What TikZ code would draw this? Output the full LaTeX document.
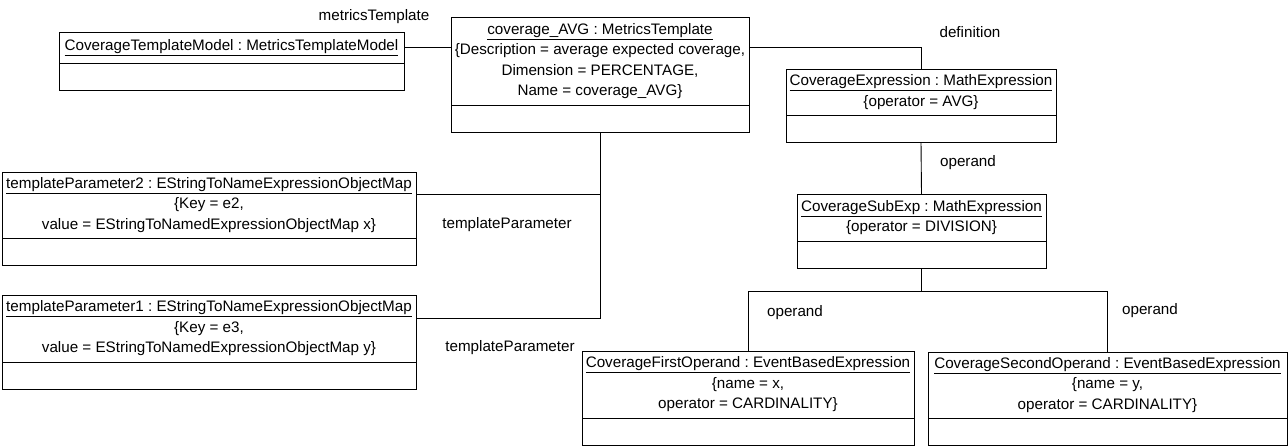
\documentclass[tikz,border=0pt]{standalone}
\usepackage{fontspec}
\setmainfont{Liberation Sans}
\frenchspacing
\usetikzlibrary{positioning}
\begin{document}
\begin{tikzpicture}[x=1pt,y=-1pt,line width=0.9pt,
	every node/.style={font=\fontsize{15.2}{20.5}\selectfont,outer sep=0pt},
	head/.style={draw,align=center,inner sep=1pt},
	body/.style={draw,minimum height=27pt},
	lbl/.style={inner sep=0pt}]
	\useasboundingbox (0,0) rectangle (1288,445);
	% cac doi tuong
	\node[head,minimum width=345pt,minimum height=31pt] (ctm) at (231.5,47.5) {\underline{CoverageTemplateModel : MetricsTemplateModel}};
	\node[body,minimum width=345pt,below=0pt of ctm] (ctmB) {};
	\node[head,minimum width=298pt,minimum height=88pt] (cavg) at (600,61) {\underline{coverage\_AVG : MetricsTemplate}\\\{Description = average expected coverage,\\Dimension = PERCENTAGE,\\Name = coverage\_AVG\}};
	\node[body,minimum width=298pt,below=0pt of cavg] (cavgB) {};
	\node[head,minimum width=270pt,minimum height=46pt] (cexp) at (921,92) {\underline{CoverageExpression : MathExpression}\\\{operator = AVG\}};
	\node[body,minimum width=270pt,below=0pt of cexp] (cexpB) {};
	\node[head,minimum width=249pt,minimum height=47pt] (csub) at (921.5,217.5) {\underline{CoverageSubExp : MathExpression}\\\{operator = DIVISION\}};
	\node[body,minimum width=249pt,below=0pt of csub] (csubB) {};
	\node[head,minimum width=414pt,minimum height=66pt] (tp2) at (209,205) {\underline{templateParameter2 : EStringToNameExpressionObjectMap}\\\{Key = e2,\\value = EStringToNamedExpressionObjectMap x\}};
	\node[body,minimum width=414pt,below=0pt of tp2] (tp2B) {};
	\node[head,minimum width=414pt,minimum height=67pt] (tp1) at (209,328.5) {\underline{templateParameter1 : EStringToNameExpressionObjectMap}\\\{Key = e3,\\value = EStringToNamedExpressionObjectMap y\}};
	\node[body,minimum width=414pt,below=0pt of tp1] (tp1B) {};
	\node[head,minimum width=332pt,minimum height=67pt] (cfirst) at (748,384.5) {\underline{CoverageFirstOperand : EventBasedExpression}\\\{name = x,\\operator = CARDINALITY\}};
	\node[body,minimum width=332pt,below=0pt of cfirst] (cfirstB) {};
	\node[head,minimum width=359pt,minimum height=66pt] (csecond) at (1107.5,385) {\underline{CoverageSecondOperand : EventBasedExpression}\\\{name = y,\\operator = CARDINALITY\}};
	\node[body,minimum width=359pt,below=0pt of csecond] (csecondB) {};
	% cac lien ket
	\draw (ctm.east) -- (ctm.east -| cavg.west);
	\draw (ctm.east -| cavg.east) -| (cexp.north);
	\draw (cexpB.south) -- (csub.north);
	\draw (cavgB.south) |- ([yshift=10pt]tp1.east);
	\draw ([yshift=11pt]tp2.east) -- ([yshift=11pt]tp2.east -| cavgB.south);
	\path (csubB.south) ++(0,23) coordinate (fork);
	\draw (csubB.south) -- (fork);
	\draw (fork) -| (cfirst.north);
	\draw (fork) -| (csecond.north);
	\node[lbl] (lmt) at (374,17) {metricsTemplate};
	\node[lbl] (ldef) at (970,32) {definition};
	\node[lbl] (lop) at (968,163) {operand};
	\node[lbl] (ltp2) at (507,225) {templateParameter};
	\node[lbl] (ltp1) at (510,348) {templateParameter};
	\node[lbl] (lop1) at (795,313) {operand};
	\node[lbl] (lop2) at (1150,311) {operand};
\end{tikzpicture}
\end{document}
